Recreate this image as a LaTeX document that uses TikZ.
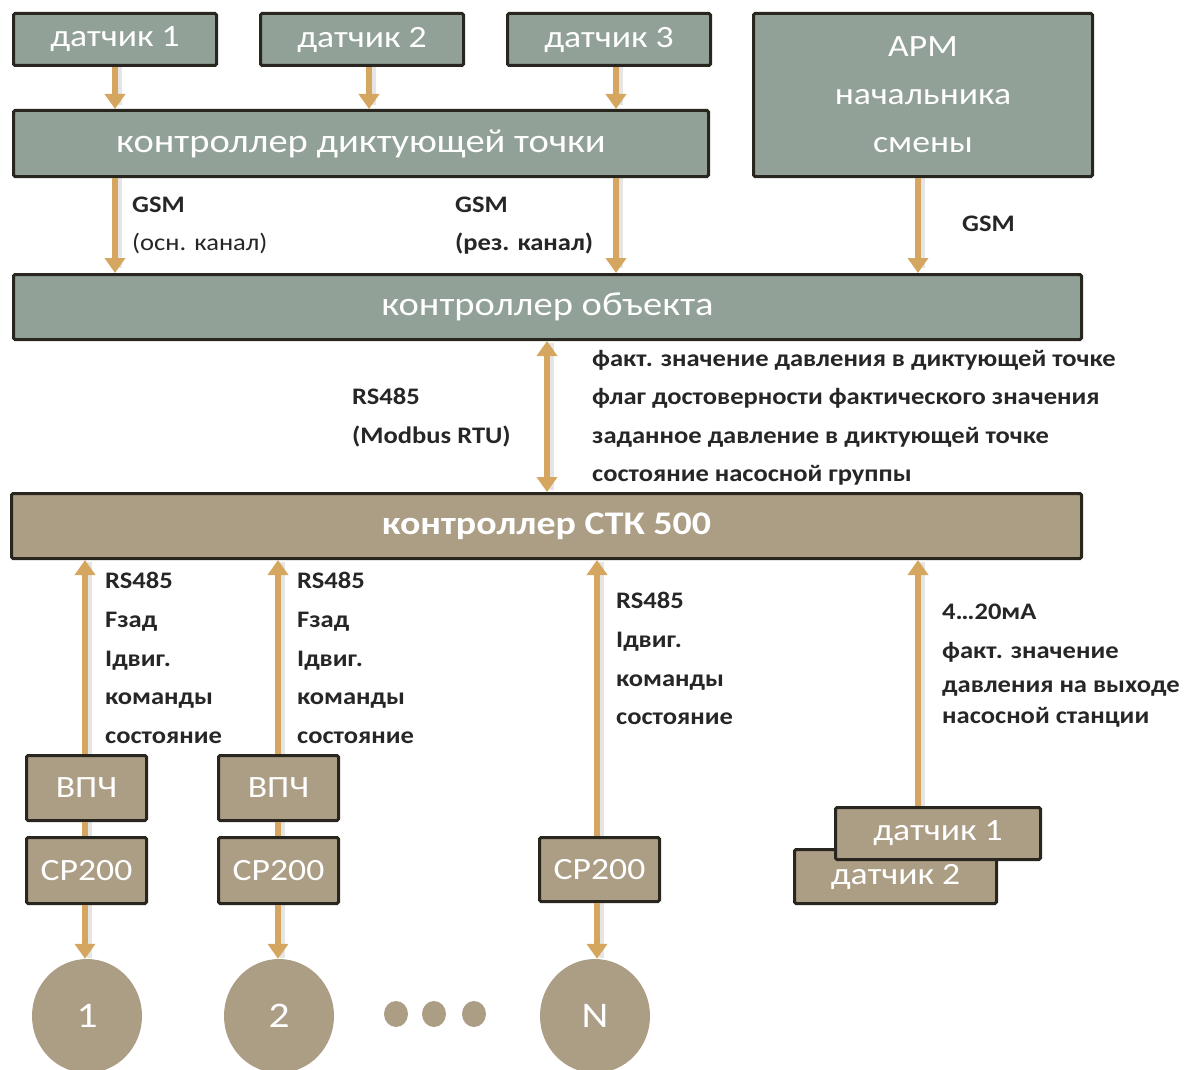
\documentclass[tikz,border=0pt]{standalone}
\usepackage{fontspec}
\setmainfont{Carlito}
\newfontfamily\wfont[FakeStretch=1.15]{Carlito}
\newfontfamily\lfont[FakeStretch=1.12]{Carlito}
\usetikzlibrary{arrows.meta,shapes.geometric}
\definecolor{grn}{RGB}{145,161,152}
\definecolor{tanc}{RGB}{172,157,133}
\definecolor{arr}{RGB}{212,166,96}
\definecolor{edgec}{RGB}{40,38,30}
\definecolor{lbl}{RGB}{38,38,38}
\tikzset{
  basebox/.style={draw=edgec, line width=3pt, rounded corners=1.5pt, text=white, inner sep=0pt, align=center},
  gbox/.style={basebox, fill=grn, font=\wfont\fontsize{31}{48}\selectfont},
  tbox/.style={basebox, fill=tanc, font=\wfont\fontsize{31}{34}\selectfont},
  bigtxt/.style={font=\wfont\fontsize{33.5}{36}\selectfont},
  pump/.style={ellipse, fill=tanc, text=white, inner sep=0pt, minimum width=110pt, minimum height=114pt, font=\wfont\fontsize{36}{40}\selectfont},
  dotc/.style={ellipse, fill=tanc, inner sep=0pt, minimum width=24pt, minimum height=26pt},
  conn/.style={draw=arr, line width=6pt, -{Triangle[width=20pt,length=15pt]}},
  dconn/.style={draw=arr, line width=6pt, {Triangle[width=20pt,length=15pt]}-{Triangle[width=20pt,length=15pt]}},
  plain/.style={draw=arr, line width=6pt},
  shad/.style={draw=black, opacity=0.10, line width=5pt, shift={(4pt,0pt)}},
  lab/.style={anchor=base west, inner sep=0pt, text=lbl, font=\lfont\bfseries\fontsize{23.7}{26}\selectfont},
  labr/.style={lab, font=\lfont\fontsize{23.7}{26}\selectfont},
}
\begin{document}
\begin{tikzpicture}[x=1pt,y=-1pt]
\useasboundingbox (0,0) rectangle (1188,1070);
% shadows of connectors (drawn first, under everything)
\foreach \x/\a/\b in {115/67/105, 369/67/105, 616/67/105, 115/178/268, 616/178/268, 918/178/268, 547/343/490, 85/562/754, 278/562/754, 597/562/836, 918/562/806, 85/822/836, 278/822/836, 85/905/958, 278/905/958, 597/903/958}{
  \draw[shad] (\x,\a) -- (\x,\b);
}
% top row
\node[gbox, minimum width=203pt, minimum height=52pt] (d1) at (115,39.5) {датчик 1};
\node[gbox, minimum width=203pt, minimum height=52pt] (d2) at (362,39.5) {датчик 2};
\node[gbox, minimum width=203pt, minimum height=52pt] (d3) at (609,39.5) {датчик 3};
\node[gbox, minimum width=339pt, minimum height=163pt] (arm) at (923,95) {АРМ\\начальника\\смены};
\node[gbox, bigtxt, minimum width=695pt, minimum height=66pt] (kdt) at (361,143.5) {контроллер диктующей точки};
\node[gbox, bigtxt, minimum width=1068pt, minimum height=65pt] (kobj) at (547.5,307) {контроллер объекта};
\node[tbox, minimum width=1070pt, minimum height=65pt, font=\wfont\bfseries\fontsize{33}{36}\selectfont] (stk) at (546.5,526) {контроллер СТК 500};
% lower boxes
\node[tbox, minimum width=120pt, minimum height=65pt] (v1) at (86.5,788) {ВПЧ};
\node[tbox, minimum width=120pt, minimum height=65pt] (v2) at (278.5,788) {ВПЧ};
\node[tbox, minimum width=120pt, minimum height=66pt] (c1) at (86.5,870.5) {CP200};
\node[tbox, minimum width=120pt, minimum height=66pt] (c2) at (278.5,870.5) {CP200};
\node[tbox, minimum width=120pt, minimum height=64pt] (cN) at (599.5,869.5) {CP200};
\node[tbox, minimum width=202pt, minimum height=54pt] (bd2) at (895.5,876.5) {\raisebox{-5pt}{датчик 2}};
\node[tbox, minimum width=205pt, minimum height=52pt] (bd1) at (938,833.5) {датчик 1};
% pumps
\node[pump] (p1) at (87,1016) {1};
\node[pump] (p2) at (279,1016) {2};
\node[pump] (pN) at (595,1016) {N};
\node[dotc] (dt1) at (396,1014) {};
\node[dotc] (dt2) at (434,1014) {};
\node[dotc] (dt3) at (474,1014) {};
% connectors
\draw[conn] (d1.south -| 115,0) -- (kdt.north -| 115,0);
\draw[conn] (d2.south -| 369,0) -- (kdt.north -| 369,0);
\draw[conn] (d3.south -| 616,0) -- (kdt.north -| 616,0);
\draw[conn] (kdt.south -| 115,0) -- (kobj.north -| 115,0);
\draw[conn] (kdt.south -| 616,0) -- (kobj.north -| 616,0);
\draw[conn] (arm.south -| 918,0) -- (kobj.north -| 918,0);
\draw[dconn] (kobj.south -| 547,0) -- (stk.north -| 547,0);
\draw[conn] (v1.north -| 85,0) -- (stk.south -| 85,0);
\draw[conn] (v2.north -| 278,0) -- (stk.south -| 278,0);
\draw[conn] (cN.north -| 597,0) -- (stk.south -| 597,0);
\draw[conn] (bd1.north -| 918,0) -- (stk.south -| 918,0);
\draw[plain] (v1.south -| 85,0) -- (c1.north -| 85,0);
\draw[plain] (v2.south -| 278,0) -- (c2.north -| 278,0);
\draw[conn] (c1.south -| 85,0) -- (p1.north -| 85,0);
\draw[conn] (c2.south -| 278,0) -- (p2.north -| 278,0);
\draw[conn] (cN.south -| 597,0) -- (pN.north -| 597,0);
% labels
\node[lab] (g1) at (132,212) {GSM};
\node[labr] (g1b) at (132,250) {(осн. канал)};
\node[lab] (g2) at (455,212) {GSM};
\node[lab] (g2b) at (455,250) {(рез. канал)};
\node[lab] (g3) at (962,231) {GSM};
\node[lab] (rs) at (352,404) {RS485};
\node[lab] (rs2) at (352,443) {(Modbus RTU)};
\node[lab] (i1) at (592,366) {факт. значение давления в диктующей точке};
\node[lab] (i2) at (592,404) {флаг достоверности фактического значения};
\node[lab] (i3) at (592,443) {заданное давление в диктующей точке};
\node[lab] (i4) at (592,481) {состояние насосной группы};
\foreach \x/\n in {105/a,297/b}{
  \node[lab] (\n1) at (\x,588) {RS485};
  \node[lab] (\n2) at (\x,627) {Fзад};
  \node[lab] (\n3) at (\x,666) {Iдвиг.};
  \node[lab] (\n4) at (\x,704) {команды};
  \node[lab] (\n5) at (\x,743) {состояние};
}
\node[lab] (n1) at (616,608) {RS485};
\node[lab] (n2) at (616,647) {Iдвиг.};
\node[lab] (n3) at (616,686) {команды};
\node[lab] (n4) at (616,724) {состояние};
\node[lab] (s1) at (942,619) {4…20мА};
\node[lab] (s2) at (942,658) {факт. значение};
\node[lab] (s3) at (942,692) {давления на выходе};
\node[lab] (s4) at (942,723) {насосной станции};
\end{tikzpicture}
\end{document}
